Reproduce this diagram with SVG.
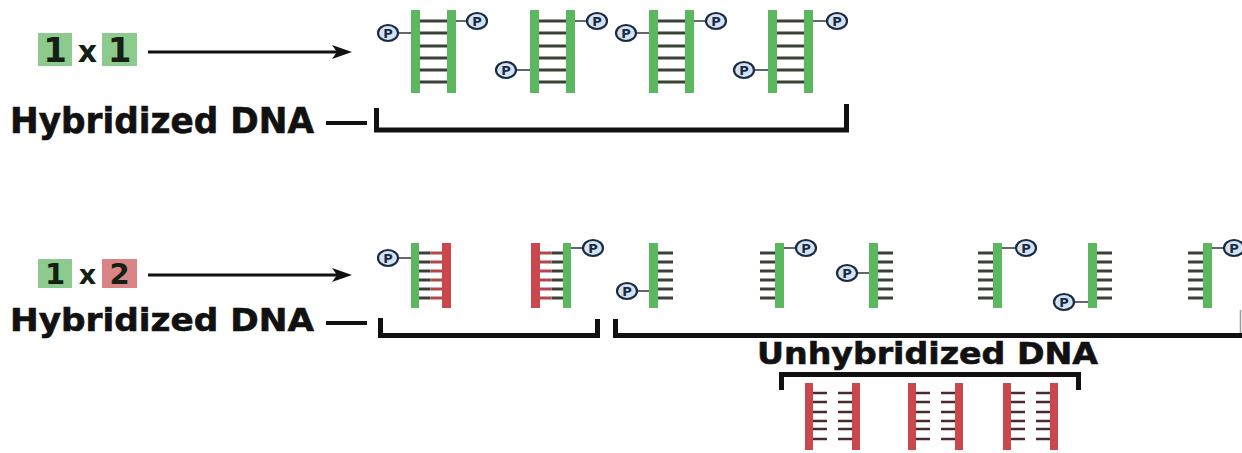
<svg xmlns="http://www.w3.org/2000/svg" xmlns:xlink="http://www.w3.org/1999/xlink" width="1242" height="453" viewBox="0 0 1242 453">
  <style>
    .lbl { font-family: "DejaVu Sans", "Liberation Sans", sans-serif; font-weight: bold; fill: #111; stroke: #111; stroke-width: 0.6; }
    .num { font-family: "DejaVu Sans", "Liberation Sans", sans-serif; font-weight: bold; fill: #142014; text-anchor: middle; }
    .grn { fill: #5cb85f; }
    .red { fill: #c9474d; }
    .rung { stroke: #3a4238; stroke-width: 3; }
    .rungR { stroke: #b3474c; stroke-width: 3; }
    .rungD { stroke: #4a2a2c; stroke-width: 2.6; }
    .tie { stroke: #3a3f48; stroke-width: 1.6; }
    .brk { fill: none; stroke: #111; stroke-width: 5; }
    .dash { stroke: #111; stroke-width: 4; }
    .arr { stroke: #111; stroke-width: 3; marker-end: url(#head); }
  </style>
  <defs>
    <marker id="head" markerUnits="userSpaceOnUse" markerWidth="20" markerHeight="14" viewBox="0 0 20 14" refX="8" refY="7" orient="auto">
      <path d="M0,0 L20,7 L0,14 L5,7 z" fill="#111"/>
    </marker>
    <!-- phosphate tag -->
    <g id="phos">
      <ellipse cx="0" cy="0" rx="10" ry="8" fill="#d3e3f1" stroke="#1b2a44" stroke-width="2.2"/>
      <text x="0" y="4.5" font-family="DejaVu Sans, sans-serif" font-weight="bold" font-size="13" fill="#1b2a44" text-anchor="middle">P</text>
    </g>
    <!-- green/green duplex -->
    <g id="dsGreen">
      <rect class="grn" x="0" y="0" width="9" height="83"/>
      <rect class="grn" x="36" y="0" width="9" height="83"/>
      <path class="rung" d="M9,11H36M9,23H36M9,36H36M9,48H36M9,60H36M9,72H36"/>
    </g>
    <!-- green/red duplex -->
    <g id="dsMixed">
      <rect class="grn" x="0" y="0" width="8" height="65"/>
      <rect class="red" x="31" y="0" width="9" height="65"/>
      <path class="rung" d="M8,10H19.5M8,19H19.5M8,28H19.5M8,37H19.5M8,46H19.5M8,55H19.5"/>
      <path class="rungR" d="M19.5,10H31M19.5,19H31M19.5,28H31M19.5,37H31M19.5,46H31M19.5,55H31"/>
    </g>
    <!-- single green strand -->
    <g id="ssGreen">
      <rect class="grn" x="0" y="0" width="9" height="65"/>
      <path class="rung" d="M9,10H24M9,19H24M9,28H24M9,37H24M9,46H24M9,55H24"/>
    </g>
    <!-- red/red duplex, unpaired halves -->
    <g id="dsRed">
      <rect class="red" x="0" y="0" width="8" height="67"/>
      <rect class="red" x="47" y="0" width="8" height="67"/>
      <path class="rungD" d="M8,10H22M8,19H22M8,29H22M8,38H22M8,46H22M8,56H22"/>
      <path class="rungD" d="M33,10H47M33,19H47M33,29H47M33,38H47M33,46H47M33,56H47"/>
    </g>
  </defs>

  <rect x="0" y="0" width="1242" height="453" fill="#fff"/>

  <!-- cross 1 x 1 -->
  <g id="cross11">
    <rect x="38" y="33" width="34" height="33" fill="#8dca8e"/>
    <rect x="102" y="33" width="35" height="33" fill="#8dca8e"/>
    <text class="num" x="55" y="62" font-size="34">1</text>
    <text class="num" x="87.5" y="62" font-size="30" fill="#111">x</text>
    <text class="num" x="119.5" y="62" font-size="34">1</text>
  </g>

  <!-- cross 1 x 2 -->
  <g id="cross12">
    <rect x="38" y="259" width="34" height="29" fill="#8dca8e"/>
    <rect x="102" y="259" width="35" height="29" fill="#d98585"/>
    <text class="num" x="55" y="284" font-size="29">1</text>
    <text class="num" x="87.5" y="284" font-size="27" fill="#111">x</text>
    <text class="num" x="119.5" y="284" font-size="29">2</text>
  </g>

  <g id="label-hyb-top">
    <text class="lbl" x="10" y="133" font-size="35" textLength="304" lengthAdjust="spacingAndGlyphs">Hybridized DNA</text>
    <line class="dash" x1="326" y1="123" x2="367" y2="123"/>
  </g>
  <g id="label-hyb-bottom">
    <text class="lbl" x="10" y="331" font-size="32" textLength="304" lengthAdjust="spacingAndGlyphs">Hybridized DNA</text>
    <line class="dash" x1="326" y1="323" x2="367" y2="323"/>
  </g>
  <g id="label-unhyb">
    <text class="lbl" x="757" y="364" font-size="30" textLength="341" lengthAdjust="spacingAndGlyphs">Unhybridized DNA</text>
  </g>

  <!-- top row: fully paired duplexes -->
  <g id="duplex1">
    <use xlink:href="#dsGreen" x="411" y="10"/>
    <line class="tie" x1="398" y1="33" x2="411" y2="33"/>
    <use xlink:href="#phos" x="388" y="33"/>
    <line class="tie" x1="456" y1="21" x2="468" y2="21"/>
    <use xlink:href="#phos" x="477" y="21"/>
  </g>
  <g id="duplex2">
    <use xlink:href="#dsGreen" x="530" y="10"/>
    <line class="tie" x1="516" y1="70" x2="530" y2="70"/>
    <use xlink:href="#phos" x="506" y="70"/>
    <line class="tie" x1="575" y1="21" x2="588" y2="21"/>
    <use xlink:href="#phos" x="597" y="21"/>
  </g>
  <g id="duplex3">
    <use xlink:href="#dsGreen" x="649" y="10"/>
    <line class="tie" x1="636" y1="33" x2="649" y2="33"/>
    <use xlink:href="#phos" x="626" y="33"/>
    <line class="tie" x1="694" y1="21" x2="707" y2="21"/>
    <use xlink:href="#phos" x="716" y="21"/>
  </g>
  <g id="duplex4">
    <use xlink:href="#dsGreen" x="768" y="10"/>
    <line class="tie" x1="754" y1="70" x2="768" y2="70"/>
    <use xlink:href="#phos" x="744" y="70"/>
    <line class="tie" x1="813" y1="21" x2="828" y2="21"/>
    <use xlink:href="#phos" x="837" y="21"/>
  </g>

  <!-- bottom row: mixed duplexes -->
  <g id="mixed1">
    <use xlink:href="#dsMixed" x="411" y="243"/>
    <line class="tie" x1="398" y1="258" x2="411" y2="258"/>
    <use xlink:href="#phos" x="388" y="258"/>
  </g>
  <g id="mixed2">
    <use xlink:href="#dsMixed" transform="translate(571,243) scale(-1,1)"/>
    <line class="tie" x1="571" y1="248" x2="584" y2="248"/>
    <use xlink:href="#phos" x="593" y="248"/>
  </g>

  <!-- bottom row: single green strands -->
  <g id="single1">
    <use xlink:href="#ssGreen" x="649" y="243"/>
    <line class="tie" x1="637" y1="291" x2="649" y2="291"/>
    <use xlink:href="#phos" x="627" y="291"/>
  </g>
  <g id="single2">
    <use xlink:href="#ssGreen" transform="translate(784,243) scale(-1,1)"/>
    <line class="tie" x1="784" y1="248" x2="797" y2="248"/>
    <use xlink:href="#phos" x="806" y="248"/>
  </g>
  <g id="single3">
    <use xlink:href="#ssGreen" x="869" y="243"/>
    <line class="tie" x1="857" y1="273" x2="869" y2="273"/>
    <use xlink:href="#phos" x="847" y="273"/>
  </g>
  <g id="single4">
    <use xlink:href="#ssGreen" transform="translate(1002,243) scale(-1,1)"/>
    <line class="tie" x1="1002" y1="248" x2="1017" y2="248"/>
    <use xlink:href="#phos" x="1026" y="248"/>
  </g>
  <g id="single5">
    <use xlink:href="#ssGreen" x="1088" y="243"/>
    <line class="tie" x1="1074" y1="302" x2="1088" y2="302"/>
    <use xlink:href="#phos" x="1064" y="302"/>
  </g>
  <g id="single6">
    <use xlink:href="#ssGreen" transform="translate(1212,243) scale(-1,1)"/>
    <line class="tie" x1="1212" y1="248" x2="1225" y2="248"/>
    <use xlink:href="#phos" x="1234" y="248"/>
  </g>

  <!-- red duplexes left unpaired -->
  <g id="red1"><use xlink:href="#dsRed" x="805" y="383"/></g>
  <g id="red2"><use xlink:href="#dsRed" x="908" y="383"/></g>
  <g id="red3"><use xlink:href="#dsRed" x="1003" y="383"/></g>

  <!-- brackets -->
  <g id="brackets">
    <path class="brk" d="M376.5,108 V130 H846.5 V104"/>
    <path class="brk" d="M380.5,318 V335.5 H597.5 V319"/>
    <path class="brk" d="M615.5,319 V335.5 H1242"/>
    <line x1="1240.5" y1="310" x2="1240.5" y2="333" stroke="#999" stroke-width="1.5"/>
    <path class="brk" d="M781.5,390 V374.5 H1078.5 V390"/>
  </g>

  <!-- connectors -->
  <g id="connectors">
    <line class="arr" x1="148" y1="52" x2="340" y2="52"/>
    <line class="arr" x1="148" y1="275" x2="340" y2="275"/>
  </g>
</svg>
